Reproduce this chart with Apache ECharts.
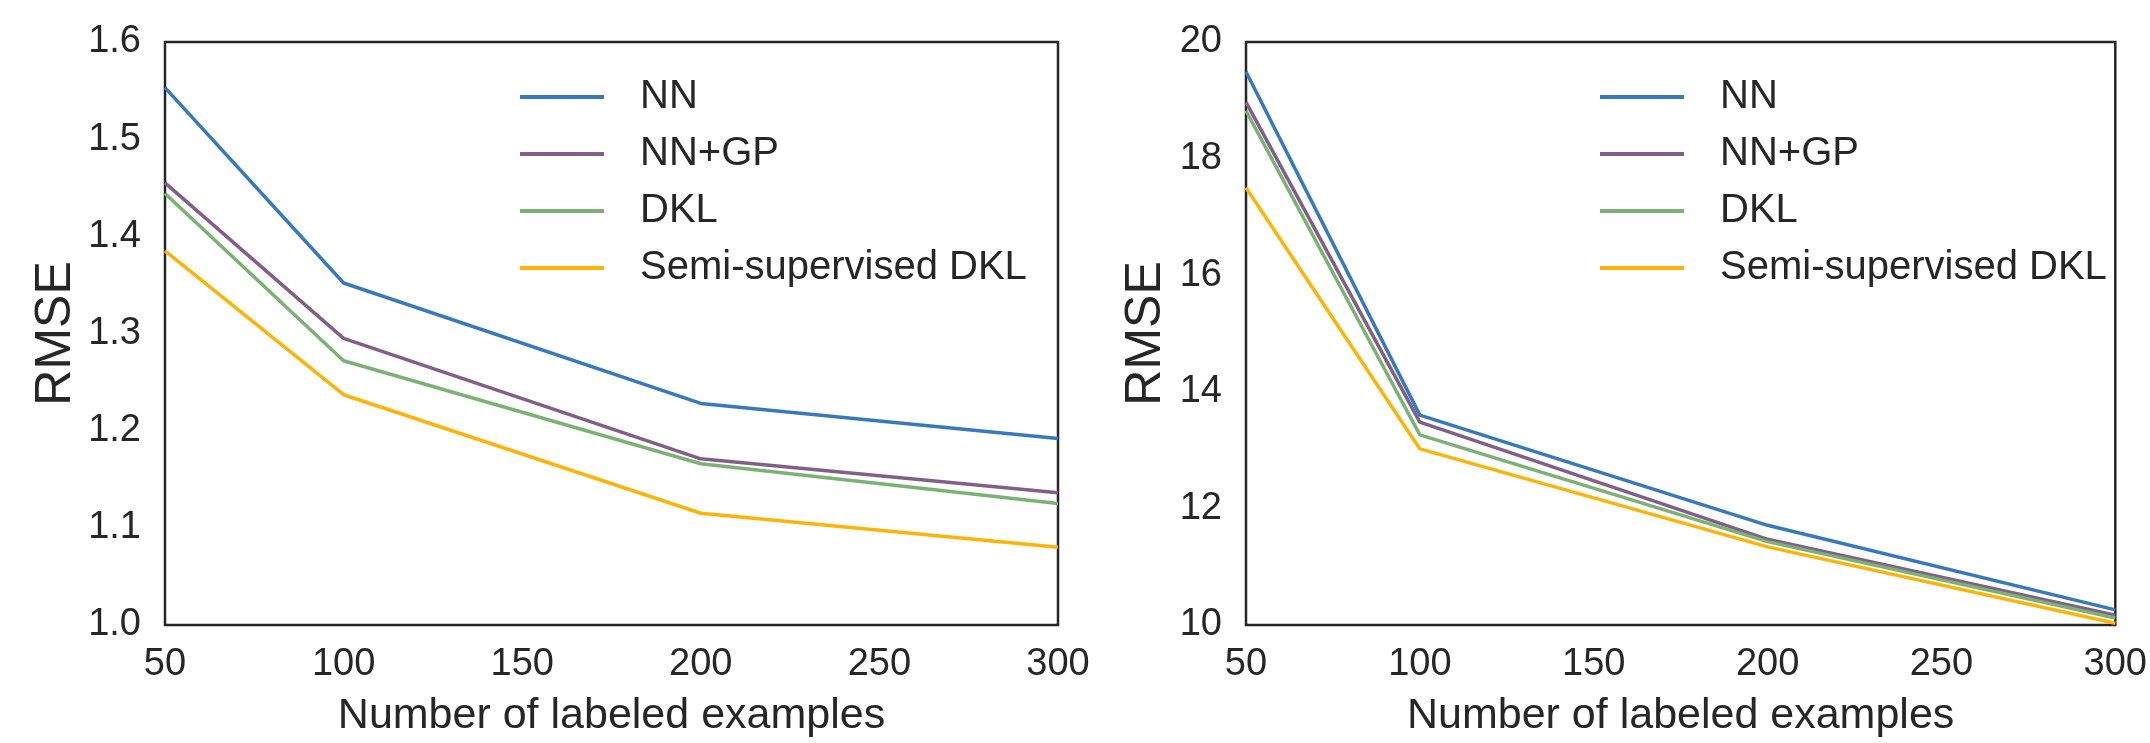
<!DOCTYPE html>
<html>
<head>
<meta charset="utf-8">
<script src="https://cdn.jsdelivr.net/npm/echarts@6/dist/echarts.min.js"></script>
<style>
html,body{margin:0;padding:0;background:#fff;}
#chart{width:2150px;height:743px;}
</style>
</head>
<body>
<div id="chart"></div>
<script>
const xValues = [50, 100, 200, 300];
const seriesNames = ['NN', 'NN+GP', 'DKL', 'Semi-supervised DKL'];
const seriesColors = ['#3778bf', '#825f87', '#7bb274', '#feb308'];

const leftNN = [1.553, 1.352, 1.228, 1.192];
const leftNNGP = [1.455, 1.295, 1.171, 1.136];
const leftDKL = [1.444, 1.272, 1.166, 1.125];
const leftSemi = [1.385, 1.237, 1.115, 1.080];

const rightNN = [19.49, 13.60, 11.71, 10.26];
const rightNNGP = [18.97, 13.48, 11.47, 10.17];
const rightDKL = [18.82, 13.26, 11.43, 10.12];
const rightSemi = [17.50, 13.02, 11.34, 10.03];

const xTicks = [50, 100, 150, 200, 250, 300];
const leftYTicks = ['1.0', '1.1', '1.2', '1.3', '1.4', '1.5', '1.6'];
const rightYTicks = ['10', '12', '14', '16', '18', '20'];

const FONT = 'Liberation Sans, Arial, sans-serif';
const TXT = '#262626';

function pairs(vals) { return xValues.map((x, i) => [x, vals[i]]); }

const chart = echarts.init(document.getElementById('chart'), null, {renderer: 'canvas'});

function xAxis(gi) {
  return {
    type: 'value', gridIndex: gi, min: 50, max: 300, interval: 50,
    name: 'Number of labeled examples', nameLocation: 'middle', nameGap: 70,
    nameTextStyle: {fontFamily: FONT, fontSize: 43, color: TXT},
    axisLine: {show: false}, axisTick: {show: false}, splitLine: {show: false},
    axisLabel: {fontFamily: FONT, fontSize: 38, color: TXT, margin: 21,
      formatter: v => String(v)}
  };
}
function yAxis(gi, min, max, interval, digits, gap) {
  return {
    type: 'value', gridIndex: gi, min: min, max: max, interval: interval,
    name: 'RMSE', nameLocation: 'middle', nameGap: gap,
    nameTextStyle: {fontFamily: FONT, fontSize: 50, color: TXT},
    axisLine: {show: false}, axisTick: {show: false}, splitLine: {show: false},
    axisLabel: {fontFamily: FONT, fontSize: 38, color: TXT, margin: 24,
      formatter: v => Number(v).toFixed(digits)}
  };
}

const leftData = [leftNN, leftNNGP, leftDKL, leftSemi];
const rightData = [rightNN, rightNNGP, rightDKL, rightSemi];

const series = [];
leftData.forEach((d, i) => series.push({
  type: 'line', name: seriesNames[i], xAxisIndex: 0, yAxisIndex: 0,
  data: pairs(d), showSymbol: false, symbol: 'none',
  lineStyle: {color: seriesColors[i], width: 3.5}, itemStyle: {color: seriesColors[i]},
  z: 2 + i, animation: false
}));
rightData.forEach((d, i) => series.push({
  type: 'line', name: seriesNames[i] + ' ', xAxisIndex: 1, yAxisIndex: 1,
  data: pairs(d), showSymbol: false, symbol: 'none',
  lineStyle: {color: seriesColors[i], width: 3.5}, itemStyle: {color: seriesColors[i]},
  z: 2 + i, animation: false
}));

function legend(left, names) {
  return {
    orient: 'vertical', left: left, top: 72, itemWidth: 84, itemHeight: 4, itemGap: 17,
    icon: 'rect', selectedMode: false,
    data: names.map((n, i) => ({name: n, itemStyle: {color: seriesColors[i]}})),
    formatter: n => n.trim(),
    textStyle: {fontFamily: FONT, fontSize: 40, color: TXT, padding: [0, 0, 0, 31]}
  };
}

chart.setOption({
  backgroundColor: '#ffffff',
  animation: false,
  grid: [
    {left: 165, top: 42, width: 893, height: 596, show: true, borderColor: '#262626', borderWidth: 2.5, backgroundColor: 'transparent'},
    {left: 1246, top: 42, width: 893, height: 595, show: true, borderColor: '#262626', borderWidth: 2.5, backgroundColor: 'transparent'}
  ],
  xAxis: [xAxis(0), xAxis(1)],
  yAxis: [yAxis(0, 1.0, 1.6, 0.1, 1, 84), yAxis(1, 10, 20, 2, 0, 75)],
  legend: [legend(515, seriesNames), legend(1595, seriesNames.map(n => n + ' '))],
  series: series
});
</script>
</body>
</html>
